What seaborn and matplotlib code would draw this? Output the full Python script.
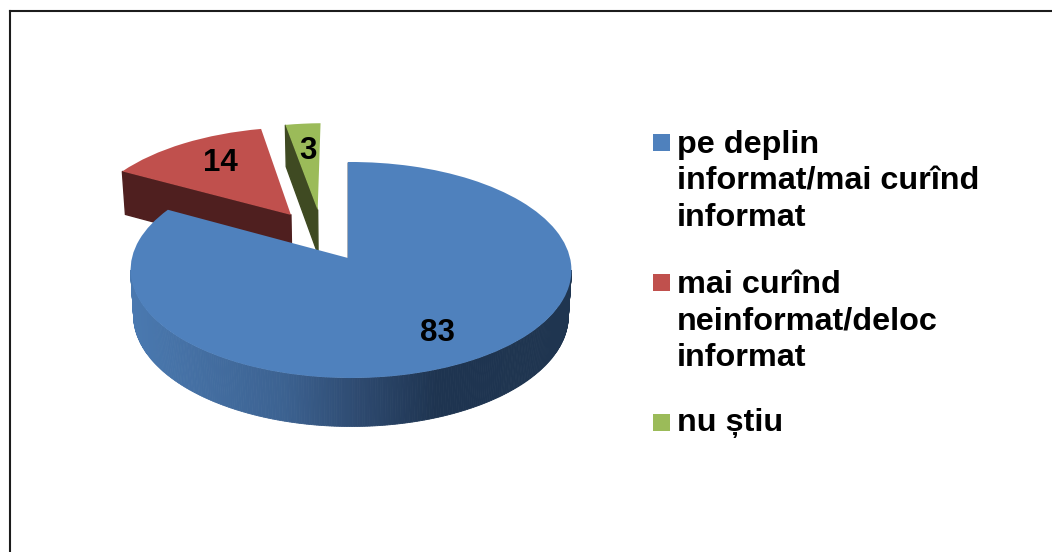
import numpy as np
import matplotlib
matplotlib.use("Agg")
import matplotlib.pyplot as plt
from matplotlib.patches import Rectangle
from matplotlib.transforms import Transform
from matplotlib.colors import LinearSegmentedColormap
import seaborn as sns

categories = ["pe deplin\ninformat/mai curînd\ninformat",
              "mai curînd\nneinformat/deloc\ninformat",
              "nu știu"]
values = [83, 14, 3]
explode = [0, 0.5, 0.49]

sns.set_theme(style="white")
plt.rcParams["font.family"] = ["Liberation Sans", "DejaVu Sans"]
plt.rcParams["font.weight"] = "bold"

top_colors = sns.color_palette(["#4F81BD", "#C0504D", "#9BBB59"])
face_colors = ["#1F3550", "#4F1F1F", "#3F4A22"]
side_cmap = LinearSegmentedColormap.from_list(
    "side", [(0, "#4A79B0"), (0.35, "#3C6291"), (0.52, "#2E4A70"),
             (0.70, "#1E3450"), (1, "#1F3550")])

W, H = 1052, 552
fig = plt.figure(figsize=(W / 100, H / 100), dpi=100, facecolor="white")
ax = fig.add_axes([10 / W, 0, (W - 10) / W, (H - 11) / H])

K, M = 1 / 9, -0.01357
CX, CY = 348, 258


def top_plane(xy):
    xy = np.atleast_2d(xy)
    d = 1 + K * xy[:, 1] + M * xy[:, 0]
    return np.column_stack([CX + 219 * xy[:, 0] / d, CY - 106.67 * xy[:, 1] / d])


def bottom_plane(xy):
    xy = np.atleast_2d(xy)
    d = 1 + K * xy[:, 1] + M * xy[:, 0]
    return np.column_stack([CX + 216 * xy[:, 0] / d, CY + 45.3 - 109.5 * xy[:, 1] / d])


class TopPlane(Transform):
    input_dims = output_dims = 2
    is_affine = False

    def transform_non_affine(self, values):
        return top_plane(values)


wedges, _ = ax.pie(values, explode=explode, startangle=90, counterclock=False,
                   colors=top_colors, wedgeprops=dict(linewidth=0))
ax.set_aspect("auto")
ax.set_xlim(10, W)
ax.set_ylim(H, 11)
ax.set_xticks([])
ax.set_yticks([])
ax.set_frame_on(True)
for name, spine in ax.spines.items():
    spine.set_visible(name in ("left", "top"))
    spine.set_linewidth(1.5)
    spine.set_color("#1c1c1c")

# nudge the pulled-out slices to where the reference has them
wedges[1].set_center((wedges[1].center[0] + 0.02, wedges[1].center[1] + 0.02))
wedges[2].set_center((wedges[2].center[0] - 0.1, wedges[2].center[1] - 0.015))


def rim(w, deg):
    a = np.radians(deg)
    return np.column_stack([w.center[0] + w.r * np.cos(a), w.center[1] + w.r * np.sin(a)])


proj = TopPlane()
for order, i in enumerate([1, 2, 0]):
    w = wedges[i]
    z = 2 + order * 2
    c = np.array([w.center])
    p = rim(w, np.array([w.theta2]))
    poly = np.vstack([top_plane(c), top_plane(p), bottom_plane(p), bottom_plane(c)])
    ax.fill(poly[:, 0], poly[:, 1], color=face_colors[i], lw=1.0, zorder=z)
    angles = np.linspace(w.theta1, w.theta2, 500)
    for a0, a1 in zip(angles[:-1], angles[1:]):
        if np.sin(np.radians((a0 + a1) / 2)) >= -K:
            continue
        seg = rim(w, np.array([a0, a1]))
        t, b = top_plane(seg), bottom_plane(seg)
        poly = np.vstack([t, b[::-1]])
        frac = (poly[:, 0].mean() - 132) / 436
        ax.fill(poly[:, 0], poly[:, 1], color=side_cmap(frac), lw=0.6, zorder=z)
    w.set_transform(proj + ax.transData)
    w.set_zorder(z + 1)

# data labels
label_pos = [(437, 333), (220, 163), (308, 151)]
for v, (x, y) in zip(values, label_pos):
    ax.text(x, y, str(v), fontsize=22.5, fontweight="bold", color="black",
            ha="center", va="center", zorder=10)

# legend: each block's baseline anchor sits on its last line
legend_y = [142, 282, 422]
for lab, col, y in zip(categories, top_colors, legend_y):
    ax.add_patch(Rectangle((653, y - 8.5), 17, 17, facecolor=col, edgecolor="none", zorder=10))
    ax.text(677, y + 9.5 + 37.5 * lab.count("\n"), lab, fontsize=23.3, fontweight="bold",
            color="black", ha="left", va="baseline", linespacing=1.3, zorder=10)

fig.savefig("out.png", dpi=100)
